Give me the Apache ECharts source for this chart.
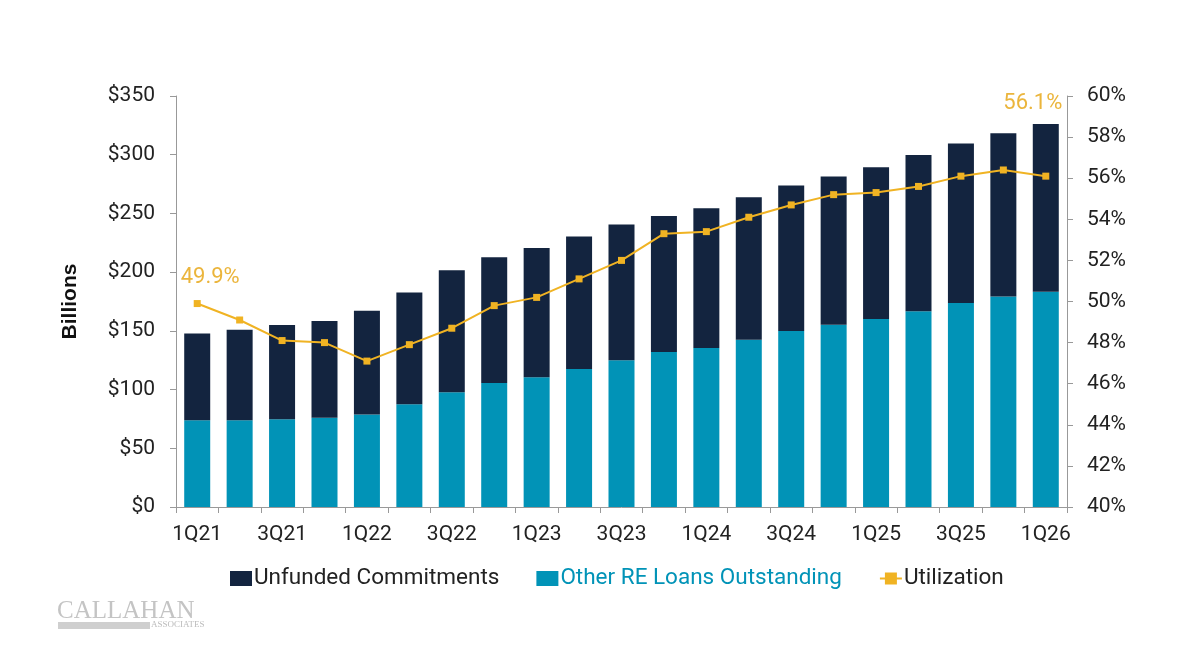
<!DOCTYPE html>
<html>
<head>
<meta charset="utf-8">
<script src="https://cdn.jsdelivr.net/npm/echarts@6/dist/echarts.min.js"></script>
<style>
  html, body { margin: 0; padding: 0; background: #fff; }
  #chart { width: 1200px; height: 650px; }
</style>
</head>
<body>
<div id="chart"></div>
<script>
  // quarters
  var quarters = ['1Q21', '2Q21', '3Q21', '4Q21', '1Q22', '2Q22', '3Q22', '4Q22', '1Q23', '2Q23', '3Q23',
    '4Q23', '1Q24', '2Q24', '3Q24', '4Q24', '1Q25', '2Q25', '3Q25', '4Q25', '1Q26']
  // other RE loans outstanding ($B)
  var otherLoans = [73.8, 73.8, 74.7, 76.1, 78.7, 87.5, 97.7, 105.6, 110.5, 117.6, 124.9,
    132.0, 135.4, 142.5, 149.9, 155.3, 160.1, 166.7, 173.7, 179.2, 183.4]
  // unfunded commitments ($B)
  var unfunded = [73.9, 77.2, 80.3, 82.3, 88.5, 95.1, 103.9, 107.0, 110.1, 112.7, 115.6,
    115.8, 119.0, 121.2, 123.8, 126.1, 129.2, 133.1, 135.8, 139.0, 142.8]
  // utilization (%)
  var utilization = [49.9, 49.1, 48.1, 48.0, 47.1, 47.9, 48.7, 49.8, 50.2, 51.1, 52.0,
    53.3, 53.4, 54.1, 54.7, 55.2, 55.3, 55.6, 56.1, 56.4, 56.1]

  var navy = '#13243f'
  var teal = '#0193b7'
  var gold = '#f0b323'
  var goldText = '#ebb53c'

  var chart = echarts.init(document.getElementById('chart'))

  /** 首尾两点加标签 */
  var utilData = utilization.map(function(v, i) {
    if (i === 0) {
      return { value: v, label: { show: true, position: 'top', offset: [13, -7] } }
    }
    if (i === utilization.length - 1) {
      return { value: v, label: { show: true, position: 'top', offset: [-13, -53] } }
    }
    return v
  })

  chart.setOption({
    textStyle: { fontFamily: 'Roboto' },
    grid: { left: 176, right: 133, top: 96, bottom: 143 },
    legend: {
      bottom: 55,
      left: 225,
      itemGap: 37,
      itemWidth: 22,
      itemHeight: 15,
      textStyle: { fontSize: 22.5, color: '#222', padding: [0, 0, 0, -3] },
      data: [
        { name: 'Unfunded Commitments', icon: 'rect' },
        { name: 'Other RE Loans Outstanding', icon: 'rect', textStyle: { color: teal } },
        { name: 'Utilization' }
      ]
    },
    xAxis: {
      type: 'category',
      data: quarters,
      axisLine: { lineStyle: { color: '#999', width: 1 } },
      axisTick: { show: true, interval: 0, length: 6, lineStyle: { color: '#999' } },
      axisLabel: { interval: 1, fontSize: 21, color: '#222', margin: 17 }
    },
    yAxis: [
      {
        type: 'value',
        min: 0,
        max: 350,
        interval: 50,
        name: 'Billions',
        nameLocation: 'middle',
        nameGap: 95,
        nameTextStyle: { fontSize: 21, fontWeight: 'bold', color: '#111', fontFamily: 'Liberation Sans' },
        axisLine: { show: true, lineStyle: { color: '#999' } },
        axisTick: { show: true, length: 6, lineStyle: { color: '#999' } },
        splitLine: { show: false },
        axisLabel: { formatter: '${value}', fontSize: 21, color: '#222', margin: 21 }
      },
      {
        type: 'value',
        min: 40,
        max: 60,
        interval: 2,
        position: 'right',
        axisLine: { show: true, lineStyle: { color: '#999' } },
        axisTick: { show: true, length: 6, lineStyle: { color: '#999' } },
        splitLine: { show: false },
        axisLabel: { formatter: '{value}%', fontSize: 21, color: '#222', margin: 20 }
      }
    ],
    series: [
      {
        name: 'Other RE Loans Outstanding',
        type: 'bar',
        stack: 'total',
        data: otherLoans,
        barWidth: 26,
        itemStyle: { color: teal }
      },
      {
        name: 'Unfunded Commitments',
        type: 'bar',
        stack: 'total',
        data: unfunded,
        barWidth: 26,
        itemStyle: { color: navy }
      },
      {
        name: 'Utilization',
        type: 'line',
        yAxisIndex: 1,
        data: utilData,
        symbol: 'rect',
        symbolSize: 7,
        lineStyle: { color: gold, width: 2 },
        itemStyle: { color: gold },
        label: {
          show: false,
          formatter: '{c}%',
          fontSize: 22,
          color: goldText
        },
        z: 5
      }
    ],
    graphic: [
      {
        type: 'text',
        left: 57,
        top: 599,
        style: { text: 'CALLAHAN', font: '25px "Liberation Serif"', fill: '#c4c4c4' }
      },
      {
        type: 'rect',
        left: 58,
        top: 622,
        shape: { width: 92, height: 7 },
        style: { fill: '#cfcfcf' }
      },
      {
        type: 'text',
        left: 151,
        top: 620,
        style: { text: 'ASSOCIATES', font: '9px "Liberation Serif"', fill: '#bbb' }
      }
    ]
  })
</script>
</body>
</html>
